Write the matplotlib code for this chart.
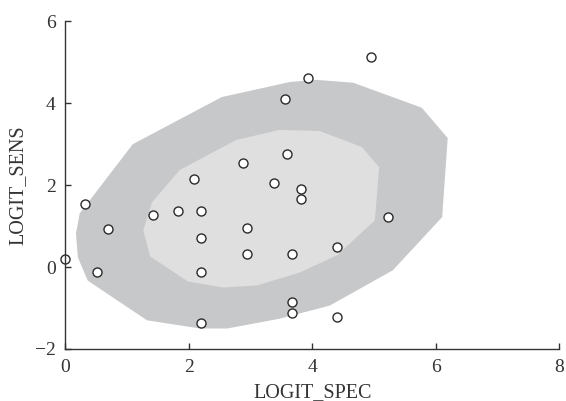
import numpy as np
import matplotlib.pyplot as plt

plt.rcParams['font.family'] = ['Liberation Serif', 'DejaVu Serif']

# observed study points (logit spec, logit sens)
spec = [0.00, 0.31, 0.69, 0.51, 1.42, 1.83, 2.19, 2.08, 2.19, 2.19, 2.19,
        2.88, 2.94, 2.94, 3.37, 3.55, 3.59, 3.67, 3.67, 3.67, 3.81, 3.82,
        3.93, 4.39, 4.39, 4.95, 5.23]
sens = [0.19, 1.53, 0.92, -0.12, 1.27, 1.38, 1.38, 2.15, 0.71, -0.11, -1.37,
        2.55, 0.95, 0.31, 2.05, 4.11, 2.75, 0.31, -0.86, -1.11, 1.91, 1.66,
        4.62, 0.48, -1.22, 5.13, 1.23]

# outer region (prediction) outline
outer_x = [0.17, 0.20, 0.36, 1.32, 2.18, 2.62, 3.47, 4.28, 5.30, 6.10, 6.19,
           5.77, 4.66, 4.07, 3.64, 2.53, 1.09, 0.23]
outer_y = [0.82, 0.24, -0.33, -1.30, -1.50, -1.50, -1.26, -0.94, -0.08, 1.22,
           3.15, 3.89, 4.50, 4.57, 4.52, 4.15, 3.00, 1.31]

# inner region (confidence) outline
inner_x = [1.26, 1.37, 1.98, 2.55, 3.10, 3.80, 4.40, 5.01, 5.08, 4.80, 4.12,
           3.47, 2.76, 1.85, 1.40]
inner_y = [0.90, 0.26, -0.35, -0.50, -0.45, -0.13, 0.29, 1.14, 2.44, 2.93,
           3.32, 3.35, 3.10, 2.37, 1.58]

fig = plt.figure(figsize=(5.66, 4.01), dpi=100)
ax = fig.add_axes([0.1157, 0.1297, 0.8728, 0.8172])

ax.fill(outer_x, outer_y, color='#c7c8ca', lw=0)
ax.fill(inner_x, inner_y, color='#dfdfe0', lw=0)
ax.plot(spec, sens, 'o', ms=6.5, mfc='white', mec='#2b2b2b', mew=1.0,
        ls='none', clip_on=False)

ax.set_xlim(0, 8)
ax.set_ylim(-2, 6)
ax.set_xticks([0, 2, 4, 6, 8])
ax.set_yticks([-2, 0, 2, 4, 6])
ax.set_yticklabels(['\u22122', '0', '2', '4', '6'])

for s in ['top', 'right']:
    ax.spines[s].set_visible(False)
for s in ['left', 'bottom']:
    ax.spines[s].set_color('#333333')
    ax.spines[s].set_linewidth(1.0)

ax.tick_params(direction='in', length=4, width=1.0, color='#333333',
               labelsize=14, labelcolor='#333333', pad=7)

ax.set_xlabel('LOGIT_SPEC', fontsize=14.5, color='#333333', labelpad=5)
ax.set_ylabel('LOGIT_SENS', fontsize=14.5, color='#333333', labelpad=5)

fig.savefig('out.png', dpi=100)
